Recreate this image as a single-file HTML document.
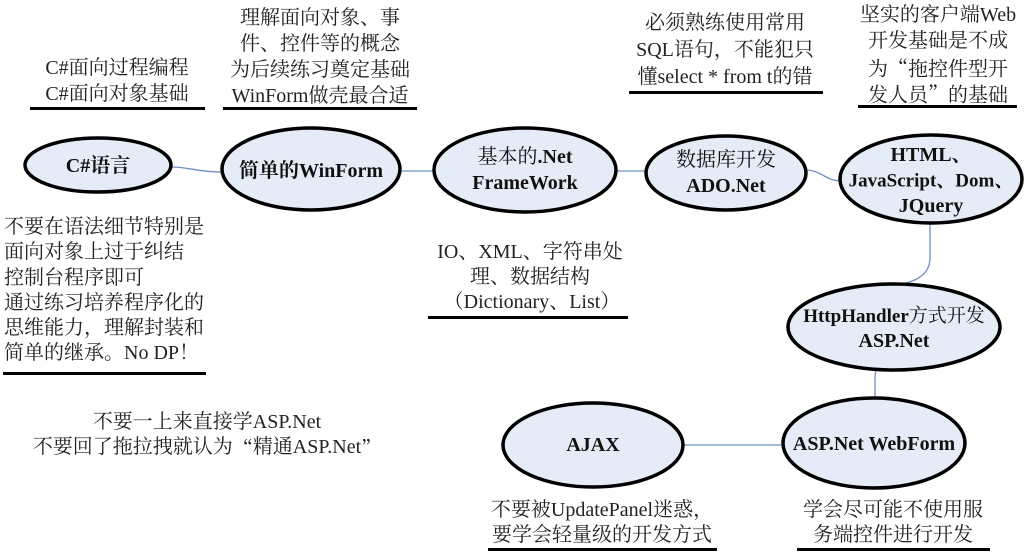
<!DOCTYPE html>
<html>
<head>
<meta charset="utf-8">
<style>
  html,body{margin:0;padding:0;background:#fff;}
  svg{display:block;}
  .t{font-family:"Liberation Serif","Noto Serif CJK SC",serif;font-size:20px;fill:#222;}
  .n{font-family:"Liberation Serif","Noto Serif CJK SC",serif;font-size:20px;fill:#111;}
  .b{font-weight:bold;}
  .q{font-family:"Noto Serif CJK SC","Noto Sans CJK SC",serif;}
</style>
</head>
<body>
<svg width="1024" height="555" viewBox="0 0 1024 555" xmlns="http://www.w3.org/2000/svg">
  <rect x="0" y="0" width="1024" height="555" fill="#fff"/>

  <!-- connectors -->
  <g fill="none" stroke="#7190c2" stroke-width="1.3">
    <path d="M171,167 C190,167 196,172 223,172"/>
    <path d="M399,171 L435,171"/>
    <path d="M616,171 L648,171"/>
    <path d="M805,170 C822,170 825,181 842,181"/>
    <path d="M930,222 L930,258 C930,280 905,286 878,286"/>
    <path d="M879,366 C876,368 875,372 875,380 L875,399"/>
    <path d="M682,445 L785,445"/>
  </g>

  <!-- ellipses -->
  <g fill="#e6ecf7" stroke="#000" stroke-width="3.5">
    <ellipse cx="98" cy="165" rx="73" ry="27"/>
    <ellipse cx="311" cy="169" rx="89" ry="41"/>
    <ellipse cx="525" cy="170" rx="91" ry="42"/>
    <ellipse cx="726" cy="173" rx="80" ry="37"/>
    <ellipse cx="931" cy="179" rx="91" ry="44"/>
    <ellipse cx="894" cy="327" rx="106" ry="43"/>
    <ellipse cx="874" cy="443" rx="91" ry="45"/>
    <ellipse cx="593" cy="445" rx="90" ry="42"/>
  </g>

  <!-- ellipse labels -->
  <g class="n" text-anchor="middle" dominant-baseline="central">
    <text x="98" y="166" class="b">C#语言</text>
    <text x="311" y="171" class="b">简单的WinForm</text>
    <text x="525" y="157">基本的<tspan class="b">.Net</tspan></text>
    <text x="525" y="183" class="b">FrameWork</text>
    <text x="726" y="160">数据库开发</text>
    <text x="726" y="186" class="b">ADO.Net</text>
    <text x="931" y="155" class="b">HTML、</text>
    <text x="931" y="181" class="b" style="font-size:19px">JavaScript、Dom、</text>
    <text x="931" y="206" class="b">JQuery</text>
    <text x="894" y="316" style="font-size:19px"><tspan class="b">HttpHandler</tspan>方式开发</text>
    <text x="894" y="341" class="b">ASP.Net</text>
    <text x="874" y="444" class="b">ASP.Net WebForm</text>
    <text x="593" y="445" class="b">AJAX</text>
  </g>

  <!-- annotations -->
  <g class="t" text-anchor="middle" dominant-baseline="central">
    <text x="117" y="68">C#面向过程编程</text>
    <text x="117" y="94">C#面向对象基础</text>

    <text x="320" y="18">理解面向对象、事</text>
    <text x="320" y="44">件、控件等的概念</text>
    <text x="320" y="70">为后续练习奠定基础</text>
    <text x="320" y="96">WinForm做壳最合适</text>

    <text x="725" y="23">必须熟练使用常用</text>
    <text x="725" y="50">SQL语句，不能犯只</text>
    <text x="725" y="77">懂select * from t的错</text>

    <text x="938" y="15">坚实的客户端Web</text>
    <text x="938" y="41">开发基础是不成</text>
    <text x="938" y="67" class="q">为“拖控件型开</text>
    <text x="938" y="93" class="q">发人员”的基础</text>

    <text x="530" y="252">IO、XML、字符串处</text>
    <text x="530" y="277">理、数据结构</text>
    <text x="532" y="302">（Dictionary、List）</text>

    <text x="207" y="422">不要一上来直接学ASP.Net</text>
    <text x="207" y="447">不要回了拖拉拽就认为<tspan class="q">“</tspan>精通ASP.Net<tspan class="q">”</tspan></text>

    <text x="602" y="510">不要被UpdatePanel迷惑，</text>
    <text x="602" y="535">要学会轻量级的开发方式</text>

    <text x="893" y="510">学会尽可能不使用服</text>
    <text x="893" y="535">务端控件进行开发</text>
  </g>

  <g class="t" text-anchor="start" dominant-baseline="central">
    <text x="4" y="227">不要在语法细节特别是</text>
    <text x="4" y="252">面向对象上过于纠结</text>
    <text x="4" y="278">控制台程序即可</text>
    <text x="4" y="303">通过练习培养程序化的</text>
    <text x="4" y="328">思维能力，理解封装和</text>
    <text x="4" y="353">简单的继承。No DP！</text>
  </g>

  <!-- underlines -->
  <g fill="#000">
    <rect x="30" y="107" width="175" height="3"/>
    <rect x="223" y="107" width="194" height="3"/>
    <rect x="629" y="91" width="194" height="3"/>
    <rect x="858" y="105" width="159" height="3"/>
    <rect x="3" y="372" width="203" height="3"/>
    <rect x="428" y="316" width="200" height="3"/>
    <rect x="488" y="548" width="229" height="3"/>
    <rect x="797" y="548" width="193" height="3"/>
  </g>
</svg>
</body>
</html>
